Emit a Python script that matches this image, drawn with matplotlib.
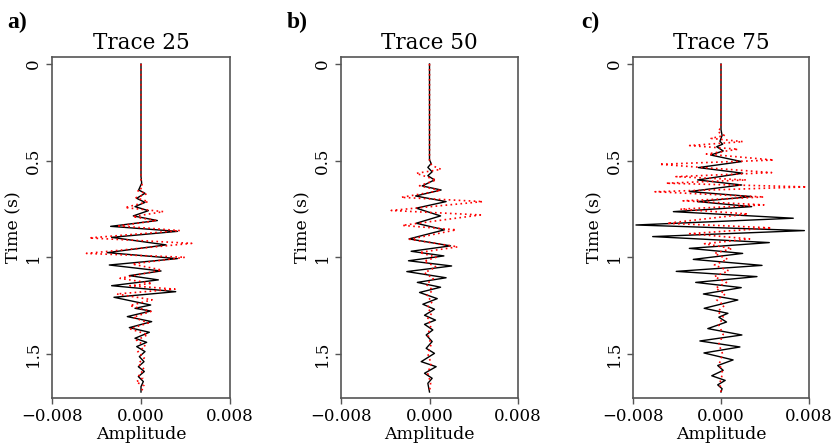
import numpy as np
import matplotlib
matplotlib.use("Agg")
import matplotlib.pyplot as plt

# amplitudes in units of 1e-3, time in seconds: (time, amplitude) at each turning point
titles = ["Trace 25", "Trace 50", "Trace 75"]
panel_tags = ["a)", "b)", "c)"]

trace25_model = np.array([
    [0, 0], [0.583, 0], [0.617, 0.06], [0.652, -0.21], [0.669, 0.36], [0.695, -0.39],
    [0.716, 0.36], [0.738, -0.54], [0.759, 0.66], [0.786, -0.69], [0.810, 1.47],
    [0.840, -2.73], [0.866, 3.27], [0.897, -2.64], [0.936, 2.25], [0.976, -3.03],
    [1.007, 3.27], [1.040, -2.85], [1.071, 1.80], [1.095, -1.05], [1.117, 1.56],
    [1.147, -2.64], [1.178, 3.12], [1.207, -2.43], [1.247, 0.87], [1.264, -0.54],
    [1.278, 0.87], [1.307, -1.23], [1.333, 0.96], [1.364, -1.05], [1.388, 0.75],
    [1.419, -0.54], [1.440, 0.51], [1.462, -0.39], [1.488, 0.36], [1.514, -0.15],
    [1.540, 0.27], [1.566, -0.24], [1.591, 0.30], [1.617, -0.24], [1.643, 0.21],
    [1.669, 0], [1.697, 0]])
trace25_pred = np.array([
    [0, 0], [0.600, 0], [0.640, 0.15], [0.655, -0.33], [0.672, 0.51], [0.692, -0.45],
    [0.712, 0.66], [0.743, -1.44], [0.764, 2.01], [0.790, -0.75], [0.810, 1.40],
    [0.838, -2.00], [0.862, 3.50], [0.900, -4.65], [0.928, 4.56], [0.980, -4.90],
    [1.000, 3.96], [1.035, -0.80], [1.066, 1.86], [1.109, -1.89], [1.135, 1.00],
    [1.147, -1.00], [1.165, 3.06], [1.190, -2.19], [1.220, 1.00], [1.250, -1.00],
    [1.280, 0.90], [1.310, -0.70], [1.340, 0.66], [1.370, -1.00], [1.400, 0.60],
    [1.430, -0.40], [1.460, 0.40], [1.490, -0.30], [1.520, 0.30], [1.550, -0.25],
    [1.580, 0.30], [1.610, -0.20], [1.625, 0.15], [1.645, -0.45], [1.665, 0.27],
    [1.697, 0]])

trace50_model = np.array([
    [0, 0], [0.496, 0], [0.515, 0.15], [0.535, -0.15], [0.558, 0.24], [0.578, -0.15],
    [0.600, 0.45], [0.631, -0.66], [0.652, 1.05], [0.683, -1.26], [0.712, 1.50],
    [0.746, -1.20], [0.786, 1.00], [0.824, -1.20], [0.858, 1.35], [0.905, -1.85],
    [0.941, 1.90], [0.969, -1.66], [0.993, 1.30], [1.018, -1.90], [1.045, 2.00],
    [1.074, -2.05], [1.106, 1.50], [1.130, -1.10], [1.155, 1.00], [1.182, -0.90],
    [1.214, 0.70], [1.243, -0.60], [1.269, 0.45], [1.300, -0.45], [1.325, 0.54],
    [1.347, -0.45], [1.376, 0.30], [1.402, -0.30], [1.436, 0.24], [1.471, -0.30],
    [1.497, 0.45], [1.540, -0.75], [1.566, 0.60], [1.600, -0.45], [1.626, 0.24],
    [1.652, -0.15], [1.697, 0]])
trace50_pred = np.array([
    [0, 0], [0.500, 0], [0.525, 0.20], [0.545, 1.05], [0.566, -1.20], [0.600, 0.60],
    [0.630, -0.90], [0.655, 1.00], [0.690, -2.56], [0.712, 4.82], [0.758, -3.46],
    [0.781, 4.60], [0.835, -2.45], [0.858, 2.41], [0.907, -1.80], [0.946, 2.56],
    [0.975, -0.90], [1.000, 0.60], [1.020, -0.50], [1.050, 0.60], [1.080, -0.45],
    [1.110, 0.35], [1.140, -0.30], [1.170, 0.30], [1.200, -0.25], [1.230, 0.25],
    [1.260, -0.20], [1.290, 0.20], [1.320, -0.20], [1.350, 0.15], [1.400, -0.15],
    [1.450, 0.15], [1.500, -0.15], [1.550, 0.15], [1.600, -0.15], [1.650, 0.10],
    [1.697, 0]])

trace75_model = np.array([
    [0, 0], [0.340, 0], [0.370, 0.10], [0.400, -0.10], [0.415, 0.15], [0.428, -0.39],
    [0.450, 0.20], [0.471, -0.94], [0.505, 1.88], [0.536, -2.06], [0.565, 1.97],
    [0.600, -2.12], [0.626, 1.88], [0.660, -2.88], [0.686, 2.79], [0.712, -2.15],
    [0.738, 2.79], [0.764, -4.33], [0.798, 6.57], [0.833, -7.73], [0.862, 7.58],
    [0.893, -6.21], [0.924, 4.39], [0.954, -2.88], [0.980, 1.97], [1.011, -2.52],
    [1.042, 3.73], [1.073, -4.07], [1.100, 3.27], [1.130, -2.30], [1.157, 1.84],
    [1.190, -1.60], [1.221, 1.53], [1.264, -1.53], [1.290, 0.63], [1.310, -0.20],
    [1.335, 0.50], [1.369, -1.20], [1.402, 1.90], [1.433, -1.92], [1.464, 1.72],
    [1.495, -1.55], [1.531, 1.10], [1.560, -0.30], [1.585, 0.20], [1.613, -0.84],
    [1.637, 0.38], [1.660, -0.30], [1.680, 0.10], [1.697, 0]])
trace75_pred = np.array([
    [0, 0], [0.330, 0], [0.350, -0.30], [0.370, 0.30], [0.385, -0.90], [0.402, 2.00],
    [0.422, -2.85], [0.441, 1.55], [0.466, -1.33], [0.497, 4.80], [0.519, -5.60],
    [0.562, 4.60], [0.583, -4.10], [0.600, 2.30], [0.617, -5.00], [0.636, 7.80],
    [0.661, -6.00], [0.688, 3.90], [0.708, -3.45], [0.729, 3.90], [0.751, -3.70],
    [0.776, 2.45], [0.824, -4.90], [0.848, 4.60], [0.878, -2.85], [0.905, 2.60],
    [0.930, -1.50], [0.955, 1.00], [0.980, -0.60], [1.010, 0.60], [1.040, -0.60],
    [1.070, 0.70], [1.100, -0.60], [1.130, 0.50], [1.160, -0.50], [1.190, 0.40],
    [1.220, -0.40], [1.250, 0.30], [1.280, -0.30], [1.310, 0.20], [1.350, -0.20],
    [1.400, 0.20], [1.450, -0.20], [1.500, 0.15], [1.550, -0.15], [1.600, 0.15],
    [1.650, -0.10], [1.697, 0]])

models = [trace25_model, trace50_model, trace75_model]
preds = [trace25_pred, trace50_pred, trace75_pred]

x_ticks = [-0.008, 0.0, 0.008]
x_tick_labels = ["\u22120.008", "0.000", "0.008"]
y_ticks = [0, 0.5, 1, 1.5]
y_tick_labels = ["0", "0.5", "1", "1.5"]

serif = "DejaVu Serif"
W, H = 832, 444
fig = plt.figure(figsize=(W / 100, H / 100), dpi=100)

lefts = [52, 341, 633]
widths = [178, 177, 176]
tag_x = [7, 287, 581]
spine_col = "#555555"

for i in range(3):
    ax = fig.add_axes([lefts[i] / W, 46 / H, widths[i] / W, 341 / H])
    m = models[i]
    p = preds[i]
    ax.plot(m[:, 1] * 1e-3, m[:, 0], color="black", lw=1.0)
    ax.plot(p[:, 1] * 1e-3, p[:, 0], color="red", lw=1.2, ls=(0, (1, 2)))
    ax.set_xlim(-0.008, 0.008)
    ax.set_ylim(1.728, -0.036)
    ax.set_xticks(x_ticks)
    ax.set_xticklabels(x_tick_labels, fontfamily=serif, fontsize=12)
    ax.set_yticks(y_ticks)
    ax.set_yticklabels(y_tick_labels, fontfamily=serif, fontsize=12,
                       rotation=90, va="center")
    ax.tick_params(direction="out", length=4, width=1, color=spine_col, pad=3)
    for s in ax.spines.values():
        s.set_color(spine_col)
        s.set_linewidth(1.2)
    ax.set_xlabel("Amplitude", fontfamily=serif, fontsize=12.5, labelpad=1)
    ax.set_ylabel("Time (s)", fontfamily=serif, fontsize=12.5, labelpad=2)
    ax.set_title(titles[i], fontfamily=serif, fontsize=15.5, pad=6)
    fig.text(tag_x[i] / W, 1 - 28 / H, panel_tags[i], fontfamily="Liberation Serif",
             fontweight="bold", fontsize=17, va="baseline")

fig.savefig("out.png", dpi=100)
